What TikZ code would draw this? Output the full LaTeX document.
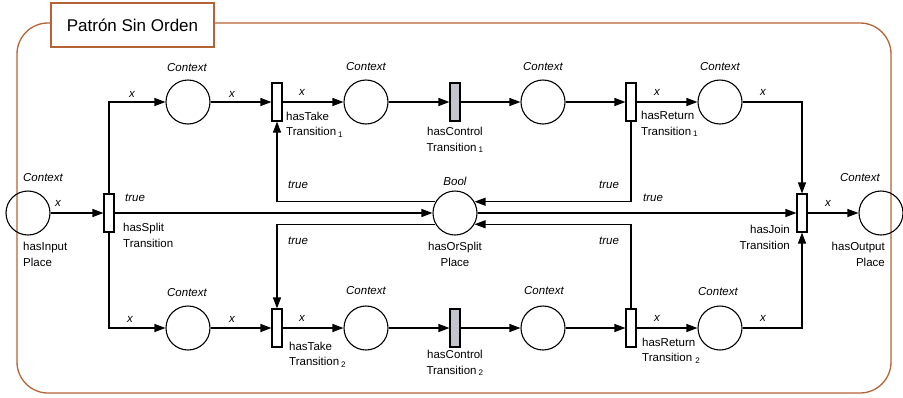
\documentclass[tikz,border=0pt]{standalone}
\usepackage{fontspec}
\setmainfont{Liberation Sans}
\usetikzlibrary{arrows.meta}
\definecolor{framec}{RGB}{181,98,52}
\definecolor{ctrlc}{RGB}{196,196,204}
\begin{document}
\begin{tikzpicture}[x=1pt,y=-1pt,
  every node/.style={font=\fontsize{11.5}{15.5}\selectfont},
  place/.style={circle,draw,line width=1.1pt,minimum size=44pt,inner sep=0pt},
  trans/.style={rectangle,draw,line width=1.1pt,minimum width=10pt,minimum height=38pt,inner sep=0pt,fill=white},
  ctrl/.style={trans,fill=ctrlc},
  arc/.style={draw,line width=1.1pt,-{Triangle[length=11pt,width=8pt]}},
  lab/.style={font=\fontsize{11.5}{15.5}\selectfont\itshape,inner sep=0pt},
  nm/.style={inner sep=0pt},
  nml/.style={nm,align=left,anchor=west},
  nmc/.style={nm,align=center},
  nmr/.style={nm,align=right,anchor=east}]
\useasboundingbox (0,0) rectangle (903,397);
% frame
\draw[framec,line width=1.3pt,rounded corners=31pt] (17,23) rectangle (891,393);
\node[draw=framec,line width=1.3pt,fill=white,minimum width=163pt,minimum height=44pt,inner sep=0pt,font=\fontsize{17}{20}\selectfont] (title) at (132.5,25) {Patrón Sin Orden};
% places and transitions
\node[place] (in) at (28,213) {};
\node[trans] (split) at (109,213) {};
\node[place] (p1) at (188,102) {};
\node[trans] (take1) at (277,102) {};
\node[place] (p2) at (366,102) {};
\node[ctrl] (ctl1) at (455,102) {};
\node[place] (p3) at (543,102) {};
\node[trans] (ret1) at (631,102) {};
\node[place] (p4) at (720,102) {};
\node[place] (bool) at (455,213) {};
\node[trans] (join) at (802,213) {};
\node[place] (out) at (881,213) {};
\node[place] (p1b) at (188,328) {};
\node[trans] (take2) at (277,328) {};
\node[place] (p2b) at (366,328) {};
\node[ctrl] (ctl2) at (455,328) {};
\node[place] (p3b) at (543,328) {};
\node[trans] (ret2) at (631,328) {};
\node[place] (p4b) at (720,328) {};
% arcs
\path[arc] (in) -- (split);
\path[arc] (split.north) |- (p1);
\path[arc] (split.south) |- (p1b);
\path[arc] (split) -- (bool);
\path[arc] (p1) -- (take1);
\path[arc] (take1) -- (p2);
\path[arc] (p2) -- (ctl1);
\path[arc] (ctl1) -- (p3);
\path[arc] (p3) -- (ret1);
\path[arc] (ret1) -- (p4);
\path[arc] (p4) -| (join.north);
\path[arc] (p1b) -- (take2);
\path[arc] (take2) -- (p2b);
\path[arc] (p2b) -- (ctl2);
\path[arc] (ctl2) -- (p3b);
\path[arc] (p3b) -- (ret2);
\path[arc] (ret2) -- (p4b);
\path[arc] (p4b) -| (join.south);
\path[arc] (ret1.south) |- (bool.30);
\path[arc] (bool.150) -| (take1.south);
\path[arc] (bool.210) -| (take2.north);
\path[arc] (ret2.north) |- (bool.330);
\path[arc] (bool) -- (join);
\path[arc] (join) -- (out);
% arc labels
\node[lab] (l1) at (58,203) {x};
\node[lab] (l2) at (132,94) {x};
\node[lab] (l3) at (232,94) {x};
\node[lab] (l4) at (302,92) {x};
\node[lab] (l5) at (657,92) {x};
\node[lab] (l6) at (763,92) {x};
\node[lab] (l7) at (130,319) {x};
\node[lab] (l8) at (232,319) {x};
\node[lab] (l9) at (302,318) {x};
\node[lab] (l10) at (657,318) {x};
\node[lab] (l11) at (763,318) {x};
\node[lab] (l12) at (828,203) {x};
\node[lab] (t1) at (135,198) {true};
\node[lab] (t2) at (298,185) {true};
\node[lab] (t3) at (609,185) {true};
\node[lab] (t4) at (653,198) {true};
\node[lab] (t5) at (298,241) {true};
\node[lab] (t6) at (609,241) {true};
% type labels
\node[lab] (c1) at (187,68) {Context};
\node[lab] (c2) at (366,67) {Context};
\node[lab] (c3) at (543,67) {Context};
\node[lab] (c4) at (720,67) {Context};
\node[lab] (c5) at (43,178) {Context};
\node[lab] (c6) at (860,178) {Context};
\node[lab] (c7) at (455,181) {Bool};
\node[lab] (c8) at (187,293) {Context};
\node[lab] (c9) at (366,291) {Context};
\node[lab] (c10) at (544,291) {Context};
\node[lab] (c11) at (718,292) {Context};
% names
\node[nml] (n1) at (23,254.5) {hasInput\\Place};
\node[nml] (n2) at (123,235.5) {hasSplit\\Transition};
\node[nml] (n3) at (286,124.5) {hasTake\\Transition\,\textsubscript{1}};
\node[nmc] (n4) at (455,140) {hasControl\\Transition\,\textsubscript{1}};
\node[nml] (n5) at (641,124) {hasReturn\\Transition\,\textsubscript{1}};
\node[nmc] (n6) at (455,254.5) {hasOrSplit\\Place};
\node[nmr] (n7) at (790,237.5) {hasJoin\\Transition};
\node[nmr] (n8) at (885,254.5) {hasOutput\\Place};
\node[nml] (n9) at (289,354.5) {hasTake\\Transition\,\textsubscript{2}};
\node[nmc] (n10) at (455,363) {hasControl\\Transition\,\textsubscript{2}};
\node[nml] (n11) at (642,350.5) {hasReturn\\Transition \textsubscript{2}};
\end{tikzpicture}
\end{document}
